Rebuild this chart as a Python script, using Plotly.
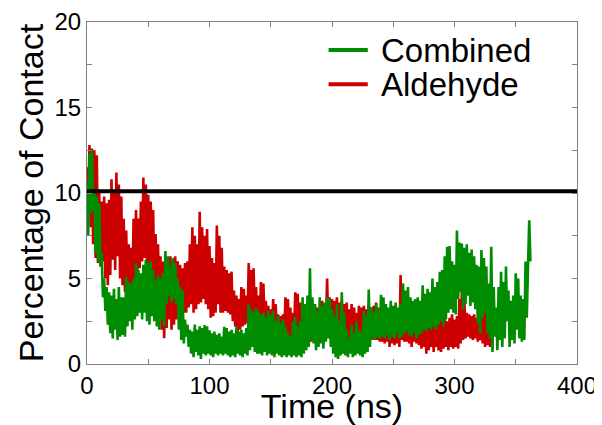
import plotly.graph_objects as go

aldehyde = [
    11.5, 9.0, 12.8, 8.0, 12.6, 7.0, 12.5, 6.2, 12.2, 5.9,
    10.0, 5.7, 9.5, 6.0, 9.8, 5.0, 9.4, 4.6, 9.6, 5.2,
    10.8, 6.1, 10.0, 5.5, 11.2, 6.3, 10.5, 5.0, 9.8, 4.6,
    8.5, 4.2, 7.8, 4.0, 7.0, 4.6, 6.8, 3.6, 8.5, 4.1,
    9.0, 5.1, 8.5, 5.6, 9.5, 6.0, 10.9, 6.2, 10.5, 5.5,
    9.9, 5.0, 9.5, 5.1, 9.0, 4.5, 7.6, 4.4, 7.0, 3.0,
    6.3, 2.0, 6.0, 1.5, 6.3, 2.1, 6.2, 2.6, 6.3, 2.0,
    6.1, 2.3, 6.3, 2.6, 6.0, 3.0, 5.8, 3.1, 5.6, 3.0,
    5.9, 3.0, 6.0, 3.3, 7.0, 3.5, 8.0, 3.0, 7.5, 3.2,
    7.0, 3.5, 8.9, 3.6, 8.0, 3.8, 7.5, 3.5, 7.9, 3.2,
    6.9, 2.7, 6.2, 2.8, 5.9, 3.0, 8.1, 3.5, 7.5, 3.0,
    6.8, 3.0, 5.7, 3.1, 5.5, 3.0, 5.3, 2.9, 5.4, 2.5,
    4.3, 2.2, 4.0, 1.8, 3.8, 2.0, 4.5, 2.2, 4.4, 2.3,
    4.0, 2.4, 5.9, 2.5, 5.5, 2.8, 5.6, 2.6, 4.5, 2.5,
    4.0, 2.5, 4.8, 2.4, 4.7, 2.3, 3.7, 2.2, 3.4, 2.0,
    3.2, 2.0, 3.8, 1.9, 3.5, 1.8, 2.9, 1.8, 2.8, 1.8,
    2.9, 1.7, 3.9, 1.8, 3.8, 1.6, 3.3, 1.4, 3.0, 1.5,
    4.2, 1.6, 4.1, 1.7, 3.6, 1.5, 2.5, 1.5, 2.2, 1.0,
    2.3, 1.2, 2.5, 1.3, 2.8, 1.8, 3.5, 2.0, 3.3, 2.2,
    2.8, 2.0, 3.7, 2.2, 3.5, 2.0, 5.0, 2.2, 3.9, 1.9,
    3.8, 1.8, 3.7, 1.7, 3.9, 1.8, 3.6, 1.6, 3.7, 1.7,
    3.5, 1.5, 3.6, 1.4, 3.2, 1.5, 3.5, 1.4, 3.3, 1.5,
    3.0, 1.6, 3.4, 1.4, 3.3, 1.5, 3.4, 1.6, 3.2, 1.4,
    3.5, 1.5, 3.3, 1.4, 3.4, 1.5, 3.6, 1.4, 3.3, 1.3,
    3.0, 1.3, 2.9, 1.2, 3.1, 1.3, 2.8, 1.0, 3.0, 1.2,
    2.7, 1.1, 2.9, 1.2, 3.2, 1.0, 5.2, 1.4, 4.0, 1.3,
    2.8, 1.3, 2.6, 1.2, 2.8, 1.0, 2.5, 1.3, 2.7, 1.2,
    2.6, 1.1, 2.4, 0.9, 2.8, 1.0, 2.6, 0.6, 2.9, 0.8,
    3.0, 1.0, 2.5, 0.7, 2.8, 1.0, 2.4, 0.8, 2.9, 0.7,
    2.6, 0.9, 2.8, 1.0, 2.5, 0.8, 2.7, 1.0, 2.9, 0.9,
    2.6, 1.0, 2.8, 0.9, 3.8, 1.2, 4.3, 1.4, 3.9, 1.5,
    3.0, 1.6, 2.9, 1.5, 2.8, 1.4, 2.9, 1.5, 2.7, 1.3,
    2.9, 1.4, 2.8, 1.2, 3.5, 1.0, 3.3, 1.1, 3.1, 1.0,
    2.8, 1.4,
]

combined = [
    10.5, 7.5, 12.3, 8.8, 12.5, 9.0, 10.2, 6.5, 9.8, 6.0,
    9.4, 5.7, 6.5, 3.9, 5.0, 3.1, 4.5, 2.3, 4.2, 1.8,
    4.0, 1.5, 4.4, 2.0, 3.8, 1.4, 4.5, 1.6, 3.9, 1.7,
    3.9, 1.6, 5.1, 2.2, 4.8, 2.5, 4.7, 2.0, 5.0, 2.6,
    5.9, 2.8, 5.5, 3.0, 5.3, 2.6, 5.8, 3.0, 6.1, 2.5,
    5.9, 2.3, 6.0, 2.8, 5.5, 2.5, 4.9, 2.2, 5.2, 2.0,
    5.0, 2.6, 5.3, 2.2, 6.6, 3.5, 6.3, 4.0, 5.7, 3.6,
    6.2, 3.8, 5.9, 3.5, 5.0, 2.0, 4.5, 1.4, 4.3, 1.2,
    2.6, 1.6, 2.3, 1.0, 2.0, 0.6, 1.9, 0.4, 2.3, 0.7,
    2.0, 0.5, 2.2, 0.3, 2.1, 0.6, 2.27, 0.5, 2.2, 0.6,
    1.97, 0.5, 1.8, 0.4, 1.9, 0.6, 1.7, 0.5, 1.8, 0.6,
    1.6, 0.5, 2.17, 0.6, 2.1, 0.5, 1.9, 0.4, 2.0, 0.5,
    1.8, 0.4, 2.2, 0.6, 1.9, 0.5, 2.0, 0.4, 1.8, 0.6,
    2.1, 0.5, 3.5, 0.8, 3.2, 1.0, 3.0, 0.7, 3.3, 0.6,
    3.1, 0.6, 2.9, 0.5, 3.0, 0.7, 2.75, 0.5, 3.1, 0.6,
    2.9, 0.5, 3.1, 0.4, 2.5, 0.6, 2.8, 0.5, 2.4, 0.4,
    2.6, 0.5, 2.2, 0.4, 1.8, 0.5, 1.6, 0.4, 2.5, 0.5,
    2.75, 0.4, 2.2, 0.5, 2.5, 0.4, 3.9, 0.6, 3.5, 0.8,
    4.0, 1.0, 5.6, 1.4, 3.9, 1.2, 3.5, 0.8, 3.1, 1.0,
    3.9, 1.2, 3.4, 0.9, 3.6, 1.3, 3.9, 1.5, 3.8, 1.0,
    3.2, 0.6, 2.8, 0.4, 3.5, 0.3, 2.5, 0.5, 4.2, 0.6,
    3.0, 0.5, 2.0, 0.4, 1.5, 0.6, 2.3, 0.4, 1.8, 0.5,
    2.5, 0.6, 2.0, 0.5, 1.9, 0.4, 3.1, 0.6, 2.8, 0.7,
    4.35, 1.0, 3.3, 1.5, 3.0, 1.4, 3.5, 1.6, 3.2, 1.5,
    4.05, 1.6, 3.9, 1.5, 3.5, 1.7, 3.3, 1.4, 3.7, 1.6,
    3.4, 1.5, 3.6, 1.8, 3.3, 1.5, 3.5, 1.6, 4.7, 1.8,
    4.3, 1.9, 4.5, 1.7, 3.9, 1.6, 3.7, 1.8, 3.8, 1.5,
    3.9, 1.7, 3.7, 1.8, 4.6, 2.0, 4.1, 1.9, 4.4, 2.1,
    4.2, 2.0, 5.0, 2.2, 4.5, 2.0, 4.8, 2.3, 5.4, 2.5,
    5.5, 2.2, 6.3, 2.6, 6.85, 3.0, 6.9, 3.2, 6.0, 3.0,
    5.8, 2.9, 7.8, 3.8, 7.1, 4.2, 7.05, 3.2, 6.8, 3.5,
    7.0, 4.0, 6.5, 3.4, 6.7, 3.6, 6.3, 3.2, 5.8, 2.4,
    5.7, 1.8, 6.66, 2.7, 6.2, 3.0, 5.7, 1.8, 4.7, 1.5,
    6.85, 0.7, 4.5, 1.6, 3.3, 0.8, 4.5, 1.4, 5.4, 1.0,
    4.8, 1.5, 5.7, 2.5, 4.3, 1.0, 3.7, 1.4, 4.0, 1.2,
    5.3, 2.0, 5.0, 1.5, 4.0, 1.3, 3.8, 1.4, 6.0, 2.7,
    5.7, 8.4, 6.0,
]

time_aldehyde = list(range(len(aldehyde)))   # ns
time_combined = list(range(len(combined)))   # ns

threshold_x = [0, 400]
threshold_y = [10.1, 10.1]

x_ticks = [0, 100, 200, 300, 400]
y_ticks = [0, 5, 10, 15, 20]

GREEN = "#008c00"
RED = "#cc0000"
AXIS = "#7f7f7f"
FONT = "Liberation Sans, Arial, sans-serif"

fig = go.Figure()
fig.add_trace(go.Scatter(x=time_aldehyde, y=aldehyde, mode="lines", name="Aldehyde",
                         line=dict(color=RED, width=2.6)))
fig.add_trace(go.Scatter(x=time_combined, y=combined, mode="lines", name="Combined",
                         line=dict(color=GREEN, width=2.6)))
fig.add_trace(go.Scatter(x=threshold_x, y=threshold_y, mode="lines", name="threshold",
                         line=dict(color="black", width=4), showlegend=False))

# legend drawn manually (compact row spacing as in the reference)
legend_items = [("Combined", GREEN, 0.918), ("Aldehyde", RED, 0.818)]
for label, color, yy in legend_items:
    fig.add_shape(type="line", xref="paper", yref="paper",
                  x0=0.493, x1=0.573, y0=yy, y1=yy,
                  line=dict(color=color, width=4))
    fig.add_annotation(xref="paper", yref="paper", x=0.595, y=yy - 0.002,
                       xanchor="left", yanchor="middle", showarrow=False,
                       text=label, font=dict(size=33, color="black", family=FONT))

axis_common = dict(
    showline=True, linecolor=AXIS, linewidth=1, mirror="ticks",
    ticks="inside", ticklen=5, tickcolor=AXIS, tickwidth=1,
    showgrid=False, zeroline=False,
    tickfont=dict(size=24, color="black", family=FONT),
)

# the page body adds an 8 px offset, so the figure is 8 px smaller than the window
fig.update_layout(
    width=594, height=417,
    margin=dict(l=79, r=25, t=14, b=61, autoexpand=False),
    paper_bgcolor="white", plot_bgcolor="white",
    showlegend=False,
    font=dict(family=FONT, color="black"),
    xaxis=dict(range=[0, 400], tickmode="array", tickvals=x_ticks,
               minor=dict(dtick=50, ticks="inside", ticklen=5, tickcolor=AXIS, showgrid=False),
               title=dict(text="Time (ns)", font=dict(size=34, color="black", family=FONT), standoff=0),
               **axis_common),
    yaxis=dict(range=[0, 20], tickmode="array", tickvals=y_ticks,
               minor=dict(dtick=2.5, ticks="inside", ticklen=5, tickcolor=AXIS, showgrid=False),
               title=dict(text="Percentage of Contact", font=dict(size=34, color="black", family=FONT), standoff=0),
               **axis_common),
)

fig.write_html("out.html")
